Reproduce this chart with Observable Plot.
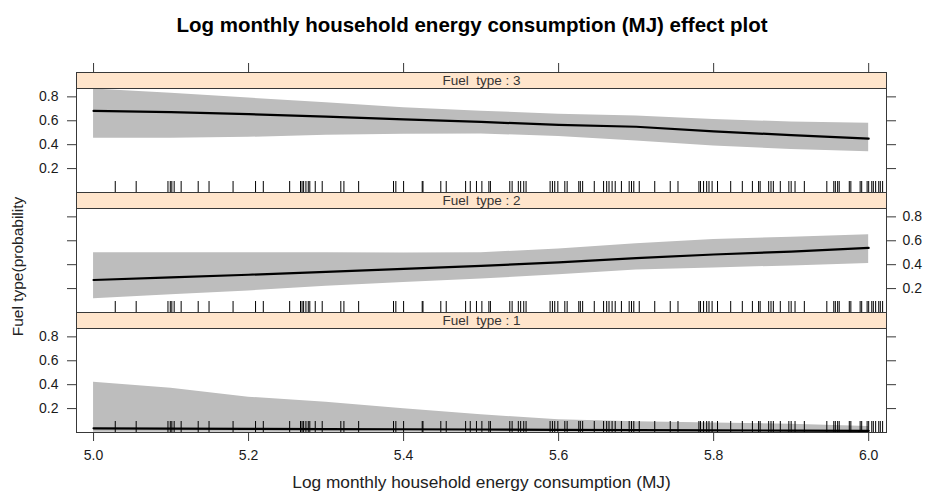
<!DOCTYPE html>
<html><head><meta charset="utf-8">
<script src="https://cdn.jsdelivr.net/npm/d3@7"></script>
<script src="https://cdn.jsdelivr.net/npm/@observablehq/plot@0.6"></script>
<style>
body{margin:0;background:#fff;font-family:"Liberation Sans",Arial,sans-serif;}
#title{height:62px;width:926px;box-sizing:border-box;padding-left:18px;padding-top:14px;text-align:center;font-weight:bold;font-size:20.5px;line-height:22px;color:#000;}
#chart{position:relative}
svg{display:block;overflow:visible;position:relative}
svg text{white-space:pre}
</style></head><body>
<div id="title">Log monthly household energy consumption (MJ) effect plot</div>
<div id="chart"></div>
<script>
// ---- data ----
const xGrid = [5.0, 5.1, 5.2, 5.3, 5.4, 5.5, 5.6, 5.7, 5.8, 5.9, 6.0];

const fit3   = [0.682, 0.672, 0.655, 0.635, 0.612, 0.590, 0.566, 0.550, 0.512, 0.480, 0.450];
const lower3 = [0.453, 0.453, 0.462, 0.478, 0.488, 0.490, 0.468, 0.430, 0.390, 0.360, 0.340];
const upper3 = [0.865, 0.830, 0.790, 0.750, 0.710, 0.680, 0.655, 0.640, 0.610, 0.590, 0.580];

const fit2   = [0.272, 0.294, 0.316, 0.340, 0.365, 0.390, 0.420, 0.455, 0.485, 0.510, 0.540];
const lower2 = [0.116, 0.148, 0.180, 0.220, 0.250, 0.280, 0.315, 0.355, 0.373, 0.390, 0.410];
const upper2 = [0.500, 0.500, 0.500, 0.500, 0.498, 0.500, 0.532, 0.575, 0.610, 0.630, 0.650];

const fit1   = [0.035, 0.033, 0.031, 0.029, 0.027, 0.025, 0.022, 0.020, 0.018, 0.016, 0.014];
const lower1 = [0.003, 0.003, 0.003, 0.003, 0.003, 0.002, 0.002, 0.002, 0.002, 0.001, 0.001];
const upper1 = [0.421, 0.371, 0.295, 0.254, 0.198, 0.148, 0.106, 0.090, 0.080, 0.070, 0.050];

const rug = [5.028, 5.055, 5.096, 5.099, 5.101, 5.104, 5.113, 5.135, 5.149, 5.180, 5.209, 5.219,
  5.253, 5.267, 5.269, 5.271, 5.274, 5.277, 5.279, 5.286, 5.295, 5.319, 5.323, 5.342, 5.387, 5.390,
  5.400, 5.424, 5.425, 5.448, 5.455, 5.480, 5.486, 5.494, 5.501, 5.510, 5.512, 5.537, 5.540, 5.548,
  5.551, 5.555, 5.558, 5.589, 5.592, 5.595, 5.599, 5.608, 5.611, 5.626, 5.628, 5.631, 5.646, 5.658,
  5.662, 5.665, 5.669, 5.673, 5.681, 5.691, 5.694, 5.697, 5.704, 5.724, 5.744, 5.754, 5.781, 5.783,
  5.787, 5.791, 5.794, 5.798, 5.805, 5.822, 5.837, 5.850, 5.858, 5.860, 5.871, 5.874, 5.877, 5.886,
  5.897, 5.900, 5.905, 5.917, 5.946, 5.955, 5.957, 5.960, 5.962, 5.975, 5.977, 5.989, 5.991, 5.998,
  6.000, 6.004, 6.006, 6.009, 6.013, 6.015, 6.018];

const xTicks = [5.0, 5.2, 5.4, 5.6, 5.8, 6.0];
const yTicks = [0.2, 0.4, 0.6, 0.8];
const stripLabels = ["Fuel  type : 3", "Fuel  type : 2", "Fuel  type : 1"];
const xLabel = "Log monthly household energy consumption (MJ)";
const yLabel = "Fuel type(probability";

// ---- layout ----
const W = 926, ML = 76, MR = 40, STRIP = 16, PANEL = 104;
const xDomain = [4.978, 6.023], yDomain = [0, 0.87];
const EDGE = "#383838";
const fmt = d3.format(".1f");
const blank = () => "";

const panels = [
  {label: stripLabels[0], fit: fit3, lower: lower3, upper: upper3, leftText: true,  top: true,  bottom: false},
  {label: stripLabels[1], fit: fit2, lower: lower2, upper: upper2, leftText: false, top: false, bottom: false, ylab: true},
  {label: stripLabels[2], fit: fit1, lower: lower1, upper: upper1, leftText: true,  top: false, bottom: true}
];

const chart = document.getElementById("chart");
panels.forEach((p, k) => {
  const mt = STRIP + (p.top ? 10 : 0);
  const mb = p.bottom ? 61 : 0;
  const marks = [
    Plot.frame({fill: "#ffe5cc", stroke: EDGE, insetTop: -STRIP, insetBottom: PANEL}),
    Plot.text([p.label], {frameAnchor: "top", lineAnchor: "middle", dy: -STRIP / 2, text: d => d, fontSize: 13.5, fill: "#333"}),
    Plot.areaY(xGrid, {x: d => d, y1: (d, i) => p.lower[i], y2: (d, i) => p.upper[i], fill: "#bdbdbd"}),
    Plot.lineY(xGrid, {x: d => d, y: (d, i) => p.fit[i], stroke: "#000", strokeWidth: 2.2}),
    Plot.tickX(rug, {x: d => d, stroke: "#000", strokeWidth: 1, insetTop: PANEL - 11}),
    Plot.frame({stroke: EDGE}),
    Plot.axisY(yTicks, {anchor: "left", tickSize: 9, tickPadding: 9, stroke: EDGE,
      tickFormat: p.leftText ? fmt : blank, label: null}),
    Plot.axisY(yTicks, {anchor: "right", tickSize: 9, tickPadding: 7, stroke: EDGE,
      tickFormat: p.leftText ? blank : fmt, label: null})
  ];
  if (p.top) marks.push(Plot.axisX(xTicks, {anchor: "top", tickSize: 10, dy: -STRIP, stroke: EDGE, tickFormat: blank, label: null}));
  if (p.bottom) {
    marks.push(Plot.axisX(xTicks, {anchor: "bottom", tickSize: 9, tickPadding: 9, stroke: EDGE, tickFormat: fmt, label: null}));
    marks.push(Plot.text([xLabel], {frameAnchor: "bottom", lineAnchor: "middle", dy: 50, text: d => d, fontSize: 17.3, fill: "#222"}));
  }
  if (p.ylab) marks.push(Plot.text([yLabel], {frameAnchor: "left", textAnchor: "middle", lineAnchor: "middle", dx: -58, dy: 6, rotate: -90, text: d => d, fontSize: 15.5, fill: "#222"}));
  const svg = Plot.plot({
    width: W, height: mt + PANEL + mb,
    marginLeft: ML, marginRight: MR, marginTop: mt, marginBottom: mb,
    x: {domain: xDomain, axis: (p.top || p.bottom) ? undefined : null},
    y: {domain: yDomain},
    style: {fontFamily: '"Liberation Sans", Arial, sans-serif', fontSize: "14px", color: "#1a1a1a", background: "transparent", overflow: "visible"},
    marks
  });
  if (p.ylab) svg.style.zIndex = 5;
  chart.appendChild(svg);
});
</script></body></html>
